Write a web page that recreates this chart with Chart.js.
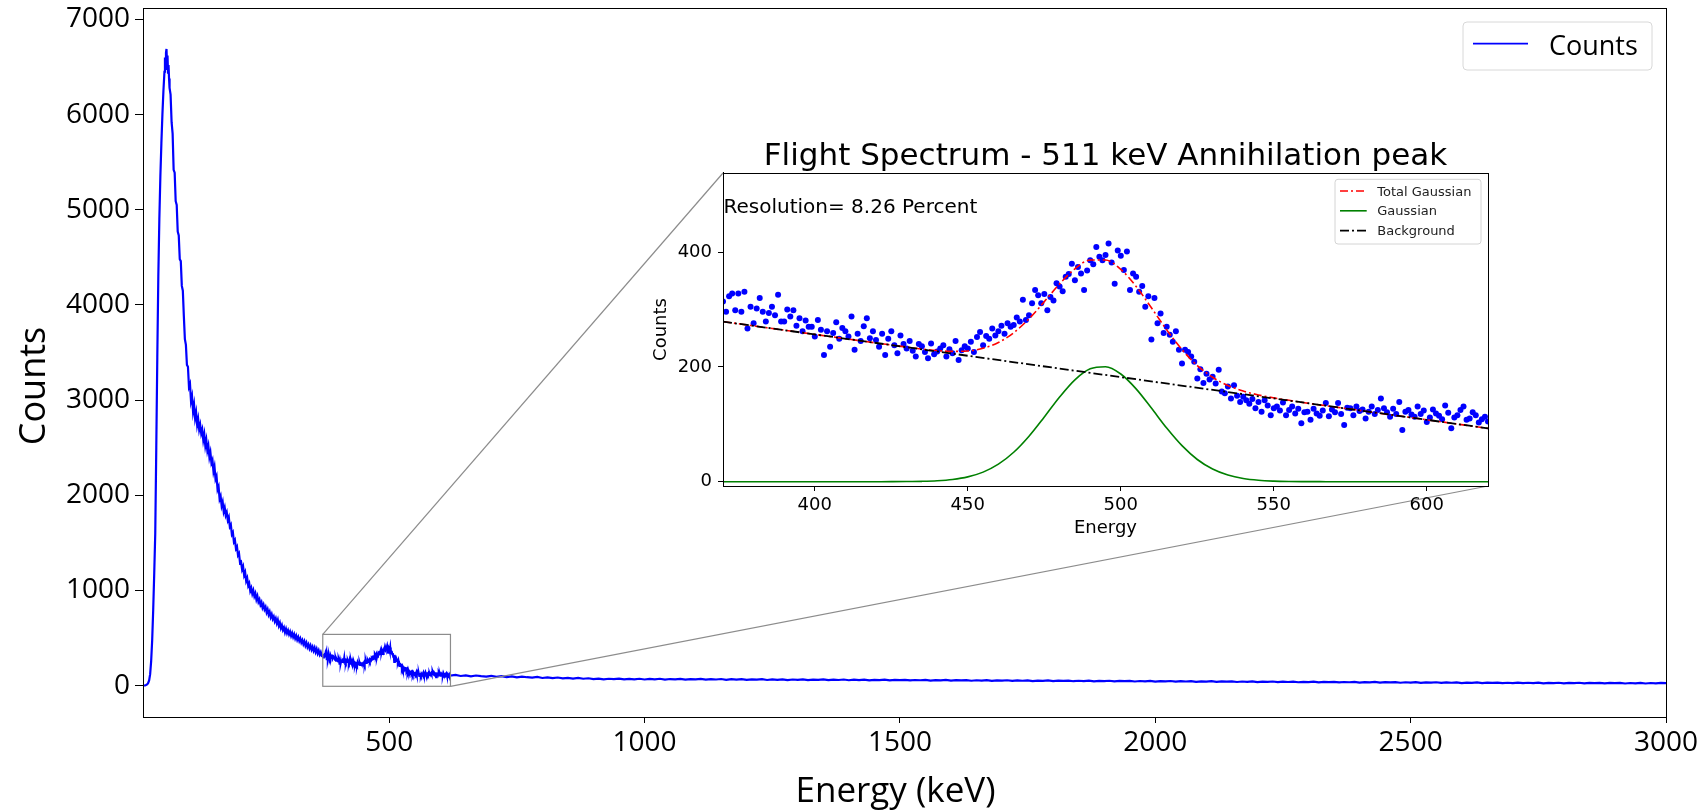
<!DOCTYPE html>
<html><head><meta charset="utf-8">
<script src="https://cdn.jsdelivr.net/npm/chart.js@4.4.1/dist/chart.umd.min.js"></script>
<style>
html,body{margin:0;padding:0;background:#fff;}
#wrap{position:relative;width:1703px;height:812px;overflow:hidden;background:#fff;}
#main{position:absolute;left:0;top:0;}
#inset{position:absolute;left:640px;top:128px;}
</style></head><body>
<div id="wrap"><canvas id="main" width="1703" height="812"></canvas><canvas id="inset" width="860" height="420"></canvas></div>
<script>
// ---------- DATA ----------
// Main spectrum: rising edge and photopeak region (keV, counts)
const riseEnergy = [18,20,22,24,26,28,30,32,34,36,38,40,42,44,46,48,50,52,54,56,58,60,61,62,63,64,65,66,67,68,69,70];
const riseCounts = [0,1,3,6,12,25,55,120,260,480,800,1180,1600,2500,3450,4300,4900,5350,5700,6000,6250,6450,6600,6480,6650,6690,6540,6620,6440,6520,6380,6280];
// Compton tail, 72..368 keV every 2 keV
const tailStart = 72, tailStep = 2;
const tailCounts = [6210,5920,5800,5420,5390,5090,5050,4770,4730,4480,
4460,4200,4150,3880,3640,3580,3370,3350,3140,3170,
2990,3040,2880,2950,2810,2870,2740,2800,2690,2740,
2650,2690,2580,2640,2520,2580,2470,2520,2400,2450,
2340,2370,2250,2300,2170,2200,2060,2090,1960,1990,
1890,1930,1830,1870,1790,1820,1740,1770,1670,1690,
1590,1610,1510,1530,1440,1460,1370,1390,1290,1300,
1220,1250,1160,1190,1100,1130,1050,1075,995,1025,
965,1000,940,970,905,940,880,905,850,875,
820,850,800,825,770,800,745,775,720,750,
700,725,675,705,655,690,630,660,605,635,
585,610,560,595,550,580,538,566,522,552,
510,540,496,525,482,510,468,495,452,478,
436,465,420,450,405,432,390,420,378,407,
366,398,352,384,338,368,326,352,312];
// Annihilation-peak window, 370..620 keV every 1 keV (also the inset scatter)
const peakStart = 370, peakStep = 1;
const peakCounts = [314,296,323,328,299,328,296,331,267,305,
276,302,320,296,279,294,305,290,326,279,
279,300,288,299,272,285,262,281,270,270,
253,282,265,221,262,235,259,278,249,268,
262,253,288,230,258,245,271,285,250,262,
247,235,258,221,249,262,238,224,255,240,
232,245,228,218,240,236,226,215,241,222,
227,232,238,218,231,224,245,212,229,236,
232,244,226,252,261,238,254,249,267,255,
262,272,258,276,270,273,286,279,317,282,
290,311,334,325,311,327,299,322,316,346,
340,332,357,362,380,351,374,363,334,368,
386,379,409,392,386,395,415,382,345,403,
394,369,401,334,363,357,331,341,305,323,
248,320,276,293,259,270,256,244,262,230,
206,230,226,218,209,180,196,172,188,178,
183,171,195,157,154,166,145,168,150,139,
148,142,136,144,128,139,122,142,133,116,
128,131,124,138,116,125,131,119,127,102,
121,122,108,127,119,115,124,137,114,126,
121,137,118,99,129,128,116,131,123,126,
110,122,131,118,125,145,128,121,113,127,
118,139,90,122,125,117,113,131,118,124,
104,112,126,119,115,109,133,120,93,112,
116,125,131,108,110,121,116,103,109,113,
105];
// High-energy continuum, 630..3000 keV every 10 keV
const highStart = 630, highStep = 10;
const highCounts = [112,101,108,97,106,99,94,103,
92,99,90,97,86,94,88,84,91,80,
87,79,85,76,82,74,80,72,77,69,
74,66,72,68,73,65,71,66,72,64,
70,66,72,63,69,65,71,62,68,65,
70,62,67,64,69,61,67,63,68,60,
66,62,67,59,65,61,66,58,64,61,
65,58,63,60,65,57,62,59,64,56,
62,58,63,55,61,57,62,54,60,57,
61,54,59,56,60,53,58,55,59,52,
57,54,58,51,56,53,57,50,55,52,
56,49,54,51,55,48,53,50,54,47,
52,49,53,46,51,48,52,45,50,47,
51,44,49,46,50,43,48,45,49,42,
47,44,48,41,46,43,47,40,45,42,
46,39,44,41,45,38,43,40,44,37,
42,39,43,36,41,38,42,35,40,37,
41,34,39,36,40,33,38,35,39,32,
37,34,38,31,36,33,37,30,35,32,
36,29,34,31,35,28,33,30,34,27,
32,29,33,26,31,28,32,25,30,27,
31,25,30,27,31,24,29,26,30,24,
29,26,30,23,28,25,29,23,28,25,
29,22,27,24,28,22,27,24,28,25];

// Fit curves (inset)
const fitEnergy = [370,375,380,385,390,395,400,405,410,415,420,425,430,435,440,445,450,455,460,465,470,475,480,485,490,495,500,505,510,515,520,525,530,535,540,545,550,555,560,565,570,575,580,585,590,595,600,605,610,615,620];
const totalGaussian = [279.0,275.3,271.6,267.8,264.1,260.4,256.7,253.0,249.2,245.5,241.8,238.2,234.6,231.2,228.6,227.1,227.9,232.5,242.5,259.6,283.9,313.7,344.8,371.0,386.4,386.3,370.0,340.4,303.1,264.6,230.2,202.4,182.0,167.7,158.0,151.2,146.1,141.8,137.7,133.9,130.2,126.5,122.8,119.0,115.3,111.6,107.9,104.2,100.4,96.7,93.0];
const gaussian = [0,0,0,0,0,0,0,0,0,0,0.02,0.08,0.23,0.64,1.65,3.9,8.4,16.7,30.5,51.3,79.3,112.8,147.6,177.6,196.7,200.3,187.7,161.8,128.3,93.5,62.8,38.7,22.0,11.5,5.5,2.4,1.0,0.37,0.12,0.04,0,0,0,0,0,0,0,0,0,0,0];
const backgroundEnergy = [370,620];
const background = [279,93];

// Axis settings / tick labels
const mainXTicks = [500,1000,1500,2000,2500,3000];
const mainYTicks = [0,1000,2000,3000,4000,5000,6000,7000];
const insetXTicks = [400,450,500,550,600];
const insetYTicks = [0,200,400];
const mainXRange = [18,3000], mainYRange = [-330,7120];
const insetXRange = [370,620], insetYRange = [-7.5,538];

const seriesLabel = 'Counts';
const xTitle = 'Energy (keV)', yTitle = 'Counts';
const insetTitle = 'Flight Spectrum - 511 keV Annihilation peak';
const insetXTitle = 'Energy', insetYTitle = 'Counts';
const resolutionText = 'Resolution= 8.26 Percent';

// ---------- BUILD ----------
const spectrum = [];
riseEnergy.forEach((e,i)=>spectrum.push({x:e,y:riseCounts[i]}));
tailCounts.forEach((c,i)=>spectrum.push({x:tailStart+i*tailStep,y:c}));
peakCounts.forEach((c,i)=>spectrum.push({x:peakStart+i*peakStep,y:c}));
highCounts.forEach((c,i)=>spectrum.push({x:highStart+i*highStep,y:c}));
const scatterPts = peakCounts.map((c,i)=>({x:peakStart+i*peakStep,y:c}));
const totalPts = fitEnergy.map((e,i)=>({x:e,y:totalGaussian[i]}));
const gaussPts = fitEnergy.map((e,i)=>({x:e,y:gaussian[i]}));
const bgPts = backgroundEnergy.map((e,i)=>({x:e,y:background[i]}));

const OS = "'Open Sans', sans-serif";
const DV = "'DejaVu Sans', sans-serif";
const INSET_LEFT = 640, INSET_TOP = 128;

function roundRect(ctx,x,y,w,h,r){
  ctx.beginPath();
  ctx.moveTo(x+r,y);ctx.lineTo(x+w-r,y);ctx.quadraticCurveTo(x+w,y,x+w,y+r);
  ctx.lineTo(x+w,y+h-r);ctx.quadraticCurveTo(x+w,y+h,x+w-r,y+h);
  ctx.lineTo(x+r,y+h);ctx.quadraticCurveTo(x,y+h,x,y+h-r);
  ctx.lineTo(x,y+r);ctx.quadraticCurveTo(x,y,x+r,y);ctx.closePath();
}

const insetDecor = {
  id:'insetDecor',
  beforeDraw(chart){
    const {ctx, chartArea:a} = chart;
    ctx.save(); ctx.fillStyle='#fff';
    ctx.fillRect(a.left,a.top,a.right-a.left,a.bottom-a.top); ctx.restore();
  },
  afterDraw(chart){
    const {ctx, chartArea:a} = chart;
    ctx.save();
    ctx.strokeStyle='#000'; ctx.lineWidth=1;
    ctx.strokeRect(Math.round(a.left)+0.5, Math.round(a.top)+0.5, Math.round(a.right-a.left), Math.round(a.bottom-a.top));
    // resolution annotation
    ctx.fillStyle='#000'; ctx.font='20px '+DV; ctx.textAlign='left'; ctx.textBaseline='alphabetic';
    ctx.fillText(resolutionText, a.left+0.5, a.top+39.7);
    // legend
    const w=146, h=64.7, lx=a.right-7-w, ly=a.top+6.3;
    roundRect(ctx,lx,ly,w,h,3);
    ctx.fillStyle='rgba(255,255,255,0.85)'; ctx.fill();
    ctx.strokeStyle='#d4d4d4'; ctx.lineWidth=1; ctx.stroke();
    const items = chart.data.datasets.filter(d=>d.inLegend);
    items.forEach((d,i)=>{
      const cy = ly+11.7+i*19.8;
      ctx.beginPath(); ctx.setLineDash(d.borderDash||[]);
      ctx.strokeStyle=d.borderColor; ctx.lineWidth=d.borderWidth;
      ctx.moveTo(lx+5,cy); ctx.lineTo(lx+31.7,cy); ctx.stroke();
      ctx.setLineDash([]);
      ctx.fillStyle='#222'; ctx.font='13px '+DV;
      ctx.fillText(d.label, lx+42.3, cy+4.6);
    });
    ctx.restore();
  }
};

function buildInset(){
  return new Chart(document.getElementById('inset'), {
    type:'line',
    data:{datasets:[
      {label:'Data', data:scatterPts, showLine:false, pointRadius:3, pointHoverRadius:3, pointBackgroundColor:'#0000ff', pointBorderWidth:0, borderColor:'#0000ff', order:3, inLegend:false},
      {label:'Total Gaussian', data:totalPts, borderColor:'#ff0000', borderWidth:1.6, borderDash:[8,3,2,3], pointRadius:0, cubicInterpolationMode:'monotone', fill:false, order:2, inLegend:true},
      {label:'Gaussian', data:gaussPts, borderColor:'#008000', borderWidth:1.6, pointRadius:0, cubicInterpolationMode:'monotone', fill:false, order:1, inLegend:true},
      {label:'Background', data:bgPts, borderColor:'#000000', borderWidth:1.8, borderDash:[9,3,2,3], pointRadius:0, fill:false, order:0, inLegend:true}
    ]},
    options:{
      responsive:false, animation:false, devicePixelRatio:1,
      layout:{padding:{top:7.8,right:12,left:0,bottom:0}},
      plugins:{
        legend:{display:false}, tooltip:{enabled:false},
        title:{display:true, text:insetTitle, fullSize:false, color:'#000', font:{family:DV,size:31,weight:'normal'}, padding:{top:3,bottom:-3}}
      },
      scales:{
        x:{type:'linear', min:insetXRange[0], max:insetXRange[1],
          afterBuildTicks:s=>{s.ticks=insetXTicks.map(v=>({value:v}));},
          afterFit:s=>{s.height=62; s.paddingLeft=0; s.paddingRight=0;},
          ticks:{color:'#000', font:{family:DV,size:18}, padding:4, maxRotation:0, autoSkip:false, callback:v=>String(v)},
          grid:{drawOnChartArea:false, drawTicks:true, tickLength:5, color:'#000'},
          border:{display:true,color:'#000',width:1},
          title:{display:true, text:insetXTitle, color:'#000', font:{family:DV,size:18}, padding:{top:0,bottom:8.5}}
        },
        y:{type:'linear', min:insetYRange[0], max:insetYRange[1],
          afterBuildTicks:s=>{s.ticks=insetYTicks.map(v=>({value:v}));},
          afterFit:s=>{s.width=83; s.paddingTop=0; s.paddingBottom=0;},
          ticks:{color:'#000', font:{family:DV,size:18}, padding:6, autoSkip:false, callback:v=>String(v)},
          grid:{drawOnChartArea:false, drawTicks:true, tickLength:5, color:'#000'},
          border:{display:true,color:'#000',width:1},
          title:{display:true, text:insetYTitle, color:'#000', font:{family:DV,size:18}, padding:{top:11,bottom:0}}
        }
      }
    },
    plugins:[insetDecor]
  });
}

function buildMain(inset){
  const mainDecor = {
    id:'mainDecor',
    afterDraw(chart){
      const {ctx, chartArea:a, scales:{x,y}} = chart;
      ctx.save();
      // frame
      ctx.strokeStyle='#000'; ctx.lineWidth=1;
      ctx.strokeRect(Math.round(a.left)+0.5, Math.round(a.top)+0.5, Math.round(a.right-a.left), Math.round(a.bottom-a.top));
      // zoom rectangle + connectors
      const rx1=x.getPixelForValue(insetXRange[0]), rx2=x.getPixelForValue(insetXRange[1]);
      const ry1=y.getPixelForValue(insetYRange[1]), ry2=y.getPixelForValue(insetYRange[0]);
      const ia = inset.chartArea;
      const il=INSET_LEFT+ia.left, it=INSET_TOP+ia.top, ir=INSET_LEFT+ia.right, ib=INSET_TOP+ia.bottom;
      ctx.strokeStyle='#8c8c8c'; ctx.lineWidth=1.2;
      ctx.strokeRect(rx1,ry1,rx2-rx1,ry2-ry1);
      ctx.beginPath(); ctx.moveTo(rx1,ry1); ctx.lineTo(il,it); ctx.stroke();
      ctx.beginPath(); ctx.moveTo(rx2,ry2); ctx.lineTo(ir,ib); ctx.stroke();
      // legend
      const lw=189, lh=48, lx=a.right-14-lw, ly=a.top+14;
      roundRect(ctx,lx,ly,lw,lh,4);
      ctx.fillStyle='rgba(255,255,255,0.85)'; ctx.fill();
      ctx.strokeStyle='#d8d8d8'; ctx.lineWidth=1; ctx.stroke();
      const ds = chart.data.datasets[0];
      ctx.beginPath(); ctx.strokeStyle=ds.borderColor; ctx.lineWidth=1.8;
      ctx.moveTo(lx+10, ly+21.6); ctx.lineTo(lx+65, ly+21.6); ctx.stroke();
      ctx.fillStyle='#000'; ctx.font='27px '+OS; ctx.textAlign='left'; ctx.textBaseline='alphabetic';
      ctx.fillText(ds.label, lx+86, ly+33.3);
      // axis titles
      ctx.font='35px '+OS; ctx.textAlign='center';
      ctx.fillText(xTitle, 895.5, 802);
      ctx.save(); ctx.translate(45,386); ctx.rotate(-Math.PI/2);
      ctx.font='36px '+OS; ctx.fillText(yTitle,0,0); ctx.restore();
      ctx.restore();
    }
  };
  return new Chart(document.getElementById('main'), {
    type:'line',
    data:{datasets:[{label:seriesLabel, data:spectrum, borderColor:'#0000ff', borderWidth:2.2, pointRadius:0, tension:0, fill:false}]},
    options:{
      responsive:false, animation:false, devicePixelRatio:1,
      layout:{padding:{top:8,right:37,left:0,bottom:0}},
      plugins:{legend:{display:false}, tooltip:{enabled:false}},
      scales:{
        x:{type:'linear', min:mainXRange[0], max:mainXRange[1],
          afterBuildTicks:s=>{s.ticks=mainXTicks.map(v=>({value:v}));},
          afterFit:s=>{s.height=95; s.paddingLeft=0; s.paddingRight=0;},
          ticks:{color:'#000', font:{family:OS,size:28}, padding:3, maxRotation:0, autoSkip:false, callback:v=>String(v)},
          grid:{drawOnChartArea:false, drawTicks:true, tickLength:6, color:'#000'},
          border:{display:true,color:'#000',width:1}
        },
        y:{type:'linear', min:mainYRange[0], max:mainYRange[1],
          afterBuildTicks:s=>{s.ticks=mainYTicks.map(v=>({value:v}));},
          afterFit:s=>{s.width=143; s.paddingTop=0; s.paddingBottom=0;},
          ticks:{color:'#000', font:{family:OS,size:28}, padding:5, autoSkip:false, callback:v=>String(v)},
          grid:{drawOnChartArea:false, drawTicks:true, tickLength:8, color:'#000'},
          border:{display:true,color:'#000',width:1}
        }
      }
    },
    plugins:[mainDecor]
  });
}

const inset = buildInset();
buildMain(inset);
</script>
</body></html>
